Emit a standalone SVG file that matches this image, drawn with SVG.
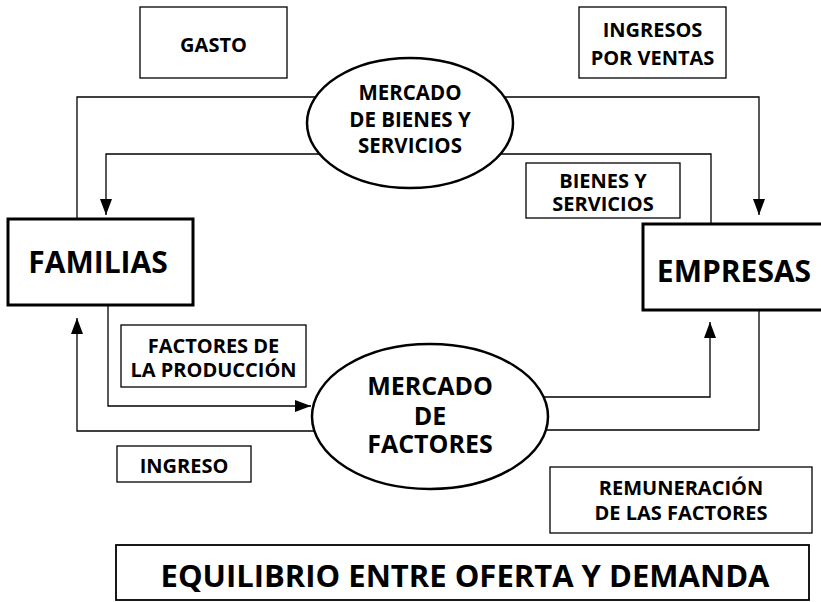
<svg xmlns="http://www.w3.org/2000/svg" width="821" height="602" viewBox="0 0 821 602">
<defs>
<marker id="ah" markerWidth="16" markerHeight="12" refX="16" refY="6" orient="auto" markerUnits="userSpaceOnUse" viewBox="0 0 16 12">
<path d="M0,0 L16,6 L0,12 Z" fill="#000"/>
</marker>
<style>
.t{font-family:"Open Sans","DejaVu Sans",sans-serif;font-weight:700;fill:#000;text-anchor:middle}
.lbl{fill:#fff;stroke:#000;stroke-width:1.3}
.main{fill:#fff;stroke:#000;stroke-width:3}
.ell{fill:#fff;stroke:#000;stroke-width:2.5}
.c{fill:none;stroke:#000;stroke-width:1.3}
</style>
</defs>
<rect width="821" height="602" fill="#fff"/>
<g id="connectors">
<path class="c" d="M77,219 V97 H320"/>
<path class="c" d="M320,154 H106 V215" marker-end="url(#ah)"/>
<path class="c" d="M500,97 H759 V215" marker-end="url(#ah)"/>
<path class="c" d="M711,224 V154 H500"/>
<path class="c" d="M108,305 V406 H311" marker-end="url(#ah)"/>
<path class="c" d="M320,431 H77 V318" marker-end="url(#ah)"/>
<path class="c" d="M540,397 H710 V322" marker-end="url(#ah)"/>
<path class="c" d="M759,310 V430 H540"/>
</g>
<g id="gasto">
<rect class="lbl" x="140" y="7" width="147" height="71"/>
<text class="t" x="213.5" y="52" font-size="20">GASTO</text>
</g>
<g id="ingresos-ventas">
<rect class="lbl" x="579" y="7" width="147" height="71"/>
<text class="t" x="652.5" y="37" font-size="20">INGRESOS</text>
<text class="t" x="652.5" y="65" font-size="20">POR VENTAS</text>
</g>
<g id="mercado-bienes">
<ellipse class="ell" cx="410" cy="123" rx="103" ry="65"/>
<text class="t" x="410" y="100" font-size="20.5">MERCADO</text>
<text class="t" x="410" y="127" font-size="20.5">DE BIENES Y</text>
<text class="t" x="410" y="153" font-size="20.5">SERVICIOS</text>
</g>
<g id="bienes-servicios">
<rect class="lbl" x="526" y="163" width="154" height="55"/>
<text class="t" x="603" y="188" font-size="20">BIENES Y</text>
<text class="t" x="603" y="211" font-size="20">SERVICIOS</text>
</g>
<g id="familias">
<rect class="main" x="8" y="219" width="185" height="86"/>
<text class="t" x="98" y="273" font-size="30">FAMILIAS</text>
</g>
<g id="empresas">
<rect class="main" x="643" y="224" width="182" height="86"/>
<text class="t" x="734" y="282" font-size="30">EMPRESAS</text>
</g>
<g id="factores-produccion">
<rect class="lbl" x="121" y="325" width="185" height="62"/>
<text class="t" x="213.5" y="353" font-size="20">FACTORES DE</text>
<text class="t" x="213.5" y="377" font-size="20">LA PRODUCCIÓN</text>
</g>
<g id="mercado-factores">
<ellipse class="ell" cx="430" cy="416.5" rx="118" ry="72.5"/>
<text class="t" x="430" y="395" font-size="25">MERCADO</text>
<text class="t" x="430" y="425" font-size="25">DE</text>
<text class="t" x="430" y="453" font-size="25">FACTORES</text>
</g>
<g id="ingreso">
<rect class="lbl" x="117" y="446" width="134" height="36"/>
<text class="t" x="184" y="473" font-size="20">INGRESO</text>
</g>
<g id="remuneracion">
<rect class="lbl" x="550" y="467" width="262" height="66"/>
<text class="t" x="681" y="495" font-size="20">REMUNERACIÓN</text>
<text class="t" x="681" y="520" font-size="20">DE LAS FACTORES</text>
</g>
<g id="equilibrio">
<rect class="lbl" x="116" y="545" width="693" height="55" style="stroke-width:1.8"/>
<text class="t" x="465" y="587" font-size="31">EQUILIBRIO ENTRE OFERTA Y DEMANDA</text>
</g>
</svg>
